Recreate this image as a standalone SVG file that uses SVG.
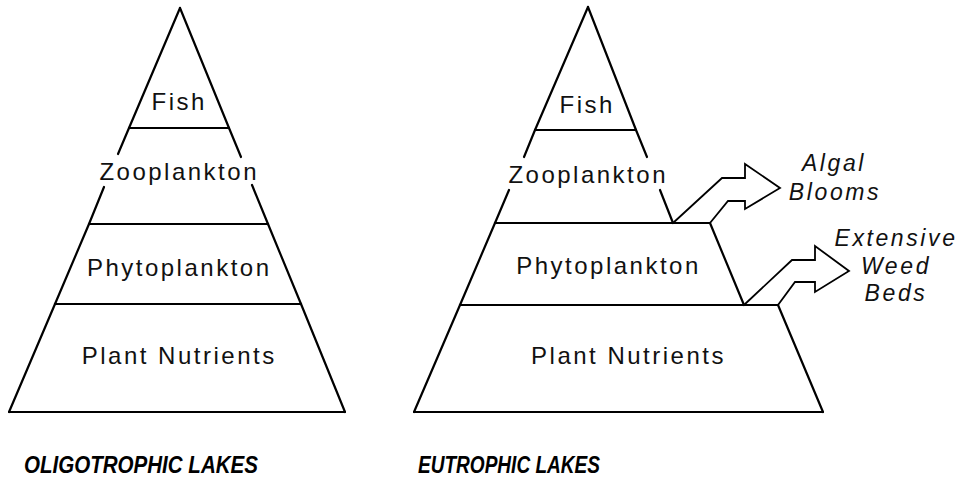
<svg xmlns="http://www.w3.org/2000/svg" width="962" height="491" viewBox="0 0 962 491">
<style>
.ln{stroke:#000;stroke-width:2.2;fill:none;stroke-linecap:round;stroke-linejoin:round}
.ar{stroke:#000;stroke-width:1.8;fill:none;stroke-linejoin:miter}
.lb{font-family:"Liberation Sans",Arial,sans-serif;font-size:24px;letter-spacing:2.5px;fill:#111;text-anchor:middle}
.it{font-family:"Liberation Sans",Arial,sans-serif;font-size:23px;font-style:italic;letter-spacing:2.6px;fill:#111;text-anchor:middle}
.tt{font-family:"Liberation Sans",Arial,sans-serif;font-size:24px;font-style:italic;font-weight:bold;fill:#000}
</style>
<rect width="962" height="491" fill="#fff"/>

<g id="oligotrophic">
  <g id="o-fish">
    <line class="ln" x1="180" y1="8" x2="129" y2="128"/>
    <line class="ln" x1="180" y1="8" x2="229" y2="128"/>
    <line class="ln" x1="129" y1="128" x2="229" y2="128"/>
    <text class="lb" x="179.2" y="110">Fish</text>
  </g>
  <g id="o-zoo">
    <line class="ln" x1="129" y1="128" x2="118" y2="154"/>
    <line class="ln" x1="104" y1="187" x2="89" y2="224"/>
    <line class="ln" x1="229" y1="128" x2="241" y2="157"/>
    <line class="ln" x1="252" y1="185" x2="268" y2="224"/>
    <line class="ln" x1="89" y1="224" x2="268" y2="224"/>
    <text class="lb" x="179.2" y="180">Zooplankton</text>
  </g>
  <g id="o-phyto">
    <line class="ln" x1="89" y1="224" x2="55" y2="304"/>
    <line class="ln" x1="268" y1="224" x2="301" y2="304"/>
    <line class="ln" x1="55" y1="304" x2="301" y2="304"/>
    <text class="lb" x="179.2" y="276">Phytoplankton</text>
  </g>
  <g id="o-nutrients">
    <line class="ln" x1="55" y1="304" x2="9" y2="412"/>
    <line class="ln" x1="301" y1="304" x2="345" y2="412"/>
    <line class="ln" x1="9" y1="412" x2="345" y2="412"/>
    <text class="lb" x="179.2" y="364">Plant Nutrients</text>
  </g>
  <text id="o-title" class="tt" x="24" y="473" textLength="234" lengthAdjust="spacingAndGlyphs">OLIGOTROPHIC LAKES</text>
</g>

<g id="eutrophic">
  <g id="e-fish">
    <line class="ln" x1="588" y1="7" x2="535" y2="130"/>
    <line class="ln" x1="588" y1="7" x2="636" y2="130"/>
    <line class="ln" x1="535" y1="130" x2="636" y2="130"/>
    <text class="lb" x="587.2" y="113">Fish</text>
  </g>
  <g id="e-zoo">
    <line class="ln" x1="535" y1="130" x2="524" y2="157"/>
    <line class="ln" x1="509" y1="190" x2="495" y2="223"/>
    <line class="ln" x1="636" y1="130" x2="647" y2="157"/>
    <line class="ln" x1="660" y1="190" x2="673" y2="223"/>
    <line class="ln" x1="495" y1="223" x2="710" y2="223"/>
    <text class="lb" x="588.2" y="183">Zooplankton</text>
  </g>
  <g id="e-phyto">
    <line class="ln" x1="495" y1="223" x2="460" y2="305"/>
    <line class="ln" x1="710" y1="223" x2="744" y2="305"/>
    <line class="ln" x1="460" y1="305" x2="778" y2="305"/>
    <text class="lb" x="608.5" y="274">Phytoplankton</text>
  </g>
  <g id="e-nutrients">
    <line class="ln" x1="460" y1="305" x2="414" y2="412"/>
    <line class="ln" x1="778" y1="305" x2="823" y2="412"/>
    <line class="ln" x1="414" y1="412" x2="823" y2="412"/>
    <text class="lb" x="628.5" y="364">Plant Nutrients</text>
  </g>
  <g id="algal-blooms">
    <text class="it" x="834" y="171">Algal</text>
    <text class="it" x="835" y="200">Blooms</text>
  </g>
  <g id="weed-beds">
    <text class="it" x="896" y="246">Extensive</text>
    <text class="it" x="896" y="274">Weed</text>
    <text class="it" x="896" y="301">Beds</text>
  </g>
  <text id="e-title" class="tt" x="418" y="473" textLength="182" lengthAdjust="spacingAndGlyphs">EUTROPHIC LAKES</text>
</g>

<g id="connectors">
  <path class="ar" d="M673,223 L722,178 L745,178 L745,164 L780,188 L745,209 L745,201 L728,201 L710,223"/>
  <path class="ar" d="M744,305 L792,260 L815,260 L815,246 L849,271 L815,292 L815,282 L795,282 L778,305"/>
</g>
</svg>
